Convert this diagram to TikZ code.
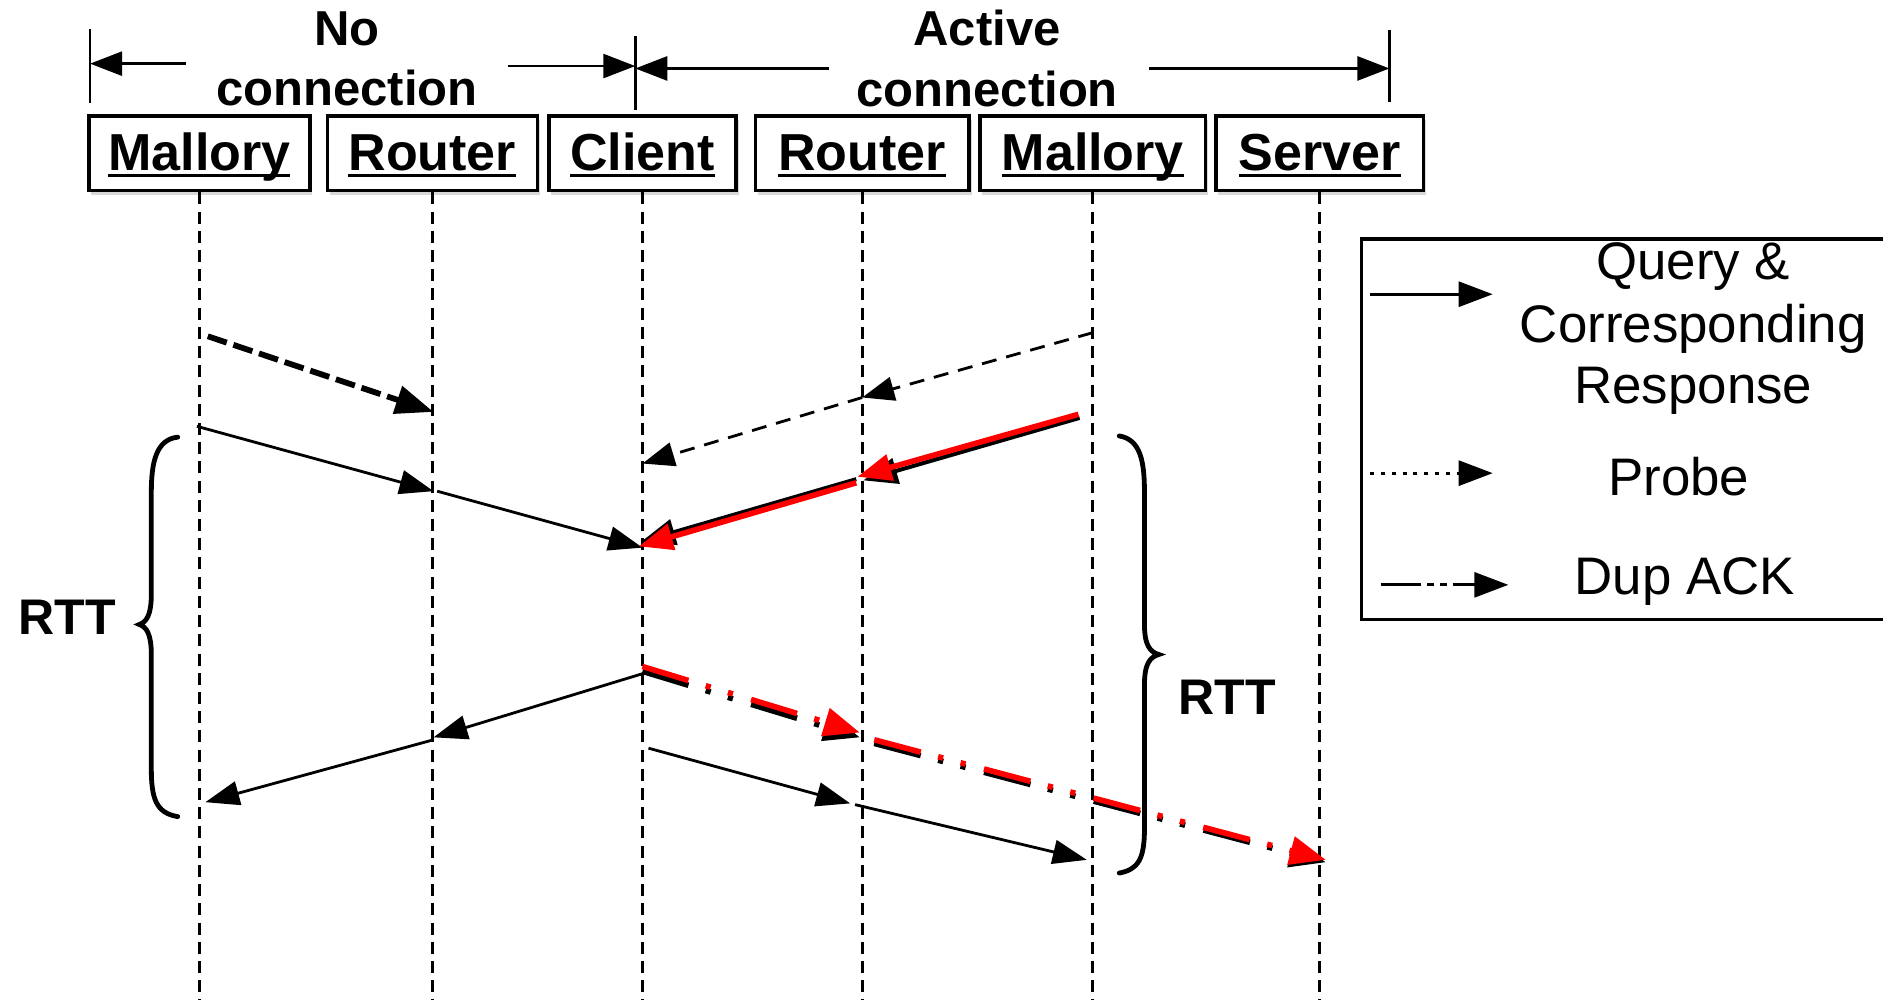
\documentclass[tikz,border=0pt]{standalone}
\usepackage{fontspec}
\setmainfont{Liberation Sans}
\usetikzlibrary{arrows.meta,shadows}
\newcommand\hul[1]{\setbox0\hbox{#1}\rlap{\rule[-3.6pt]{\wd0}{1.6pt}}\box0}
\begin{document}
\begin{tikzpicture}[x=0.6pt,y=-0.6pt,
  hdr/.style={draw,line width=1.7pt,fill=white,inner sep=0pt,text height=27pt,text depth=10.3pt,
    font=\fontsize{26}{30}\selectfont\bfseries,
    drop shadow={shadow xshift=1.2pt,shadow yshift=-2pt,opacity=0.3}},
  life/.style={line width=1.4pt,dash pattern=on 6pt off 3.6pt},
  msg/.style={line width=1.4pt,-{Triangle[length=17pt,width=12pt]}},
  thickdash/.style={line width=2.9pt,dash pattern=on 10pt off 3.5pt,-{Triangle[length=19pt,width=14pt]}},
  probe/.style={line width=1.4pt,dash pattern=on 7.5pt off 5pt,-{Triangle[length=16pt,width=12pt]}},
  redmsg/.style={draw=red,line width=2.8pt,-{Triangle[length=17pt,width=13pt,fill=red]}},
  blkmsg/.style={line width=2pt,-{Triangle[length=17pt,width=13pt]}},
  dupack/.style={line width=2.8pt,dash pattern=on 24pt off 9pt on 2.6pt off 9pt on 2.6pt off 9.5pt,-{Triangle[length=18pt,width=14pt]}},
  spanarr/.style={line width=1.3pt,-{Triangle[length=16pt,width=12pt]}},
  legarr/.style={line width=1.4pt,-{Triangle[length=17pt,width=12.5pt]}},
  bracestyle/.style={line width=2.4pt,line cap=round},
  lbl/.style={font=\fontsize{24.5}{28}\selectfont\bfseries,anchor=base,inner sep=0pt},
  rtt/.style={font=\fontsize{25}{28}\selectfont\bfseries,anchor=base,inner sep=0pt},
  leg/.style={font=\fontsize{26.4}{30}\selectfont,anchor=base,inner sep=0pt}
]
\fill[white] (0,0) rectangle (1568,832.7);
\useasboundingbox (0,0) rectangle (1568,832.7);

% headers
\node[hdr,minimum width=110.4pt] (m1) at (166,127.7) {\hul{Mallory}};
\node[hdr,minimum width=105pt]   (r1) at (360,127.7) {\hul{Router}};
\node[hdr,minimum width=93.6pt]  (cl) at (535,127.7) {\hul{Client}};
\node[hdr,minimum width=106.8pt] (r2) at (718,127.7) {\hul{Router}};
\node[hdr,minimum width=112.8pt] (m2) at (910,127.7) {\hul{Mallory}};
\node[hdr,minimum width=103.8pt] (sv) at (1099,127.7) {\hul{Server}};

% lifelines
\coordinate (bot) at (0,834);
\foreach \n in {m1,r1,cl,r2,m2,sv}{
  \draw[life] (\n.south) -- (\n.south |- bot);
}

% span markers
\coordinate (b1t) at (75,24);  \coordinate (b1b) at (75,86);
\coordinate (b2t) at (529,30); \coordinate (b2b) at (529,92);
\coordinate (b3t) at (1157,25);\coordinate (b3b) at (1157,85);
\draw[line width=1.3pt] (b1t) -- (b1b);
\draw[line width=1.3pt] (b2t) -- (b2b);
\draw[line width=1.3pt] (b3t) -- (b3b);
\coordinate (s1a) at (155,53);  \coordinate (s1b) at (75,53);
\coordinate (s2a) at (423,55);  \coordinate (s2b) at (529,55);
\coordinate (s3a) at (690,57);  \coordinate (s3b) at (529,57);
\coordinate (s4a) at (957,57);  \coordinate (s4b) at (1157,57);
\draw[spanarr] (s1a) -- (s1b);
\draw[spanarr] (s2a) -- (s2b);
\draw[spanarr] (s3a) -- (s3b);
\draw[spanarr] (s4a) -- (s4b);
\node[lbl] (no1) at (289,37.5) {No};
\node[lbl] (no2) at (289,88) {connection};
\node[lbl] (ac1) at (822,37.5) {Active};
\node[lbl] (ac2) at (822,89) {connection};

% arrow 1: thick dashed Mallory -> Router
\coordinate (p1a) at (173,280); \coordinate (p1b) at (361,343);
\draw[thickdash] (p1a) -- (p1b);

% arrow 2: Mallory -> Router -> Client
\coordinate (q2a) at (164,355); \coordinate (q2b) at (361,409);
\coordinate (q2c) at (364,409); \coordinate (q2d) at (535,456);
\draw[msg] (q2a) -- (q2b);
\draw[msg] (q2c) -- (q2d);

% arrow 3: probe Mallory2 -> Router2 -> Client
\coordinate (q3a) at (910,277); \coordinate (q3b) at (718,331);
\coordinate (q3c) at (718,331); \coordinate (q3d) at (535,386);
\draw[probe] (q3a) -- (q3b);
\draw[probe] (q3c) -- (q3d);

% arrow 4: red Mallory2 -> Router2 -> Client (black underneath)
\coordinate (k4a) at (899,348); \coordinate (k4b) at (719,400);
\coordinate (k4c) at (713,399); \coordinate (k4d) at (534,451);
\draw[blkmsg] (k4a) -- (k4b);
\draw[blkmsg] (k4c) -- (k4d);
\coordinate (q4a) at (898,345); \coordinate (q4b) at (714,397);
\coordinate (q4c) at (713,402); \coordinate (q4d) at (532,455);
\draw[redmsg] (q4a) -- (q4b);
\draw[redmsg] (q4c) -- (q4d);

% arrow 5: Client -> Router -> Mallory
\coordinate (q5a) at (535,561); \coordinate (q5b) at (361,614);
\coordinate (q5c) at (361,616); \coordinate (q5d) at (171,668);
\draw[msg] (q5a) -- (q5b);
\draw[msg] (q5c) -- (q5d);

% arrow 6: Dup ACK red (black underneath)
\coordinate (k6a) at (535,559); \coordinate (k6b) at (716,614);
\coordinate (k6c) at (728,619); \coordinate (k6d) at (1104,718);
\draw[dupack] (k6a) -- (k6b);
\draw[dupack] (k6c) -- (k6d);
\coordinate (q6a) at (535,555); \coordinate (q6b) at (716,610);
\coordinate (q6c) at (728,616); \coordinate (q6d) at (1104,716);
\draw[dupack,red,-{Triangle[length=18pt,width=14pt,fill=red]}] (q6a) -- (q6b);
\draw[dupack,red,-{Triangle[length=18pt,width=14pt,fill=red]}] (q6c) -- (q6d);

% arrow 7: Client -> Router2 -> Mallory2
\coordinate (q7a) at (540,623); \coordinate (q7b) at (708,669);
\coordinate (q7c) at (712,670); \coordinate (q7d) at (905,716);
\draw[msg] (q7a) -- (q7b);
\draw[msg] (q7c) -- (q7d);

% braces
\draw[bracestyle] (148,364) .. controls (130,366) and (126,385) .. (126,410) -- (126,495)
  .. controls (126,512) and (122,518) .. (116,520)
  .. controls (122,522) and (126,528) .. (126,545) -- (126,640)
  .. controls (126,665) and (130,677) .. (148,680);
\node[rtt] (rttl) at (56,528) {RTT};
\draw[bracestyle] (932,363) .. controls (950,366) and (953,385) .. (953,410) -- (953,520)
  .. controls (953,538) and (958,543) .. (965,545)
  .. controls (958,547) and (953,552) .. (953,570) -- (953,690)
  .. controls (953,715) and (948,724) .. (932,727);
\node[rtt] (rttr) at (1022,595) {RTT};

% legend
\draw[line width=1.6pt] (1568,199) -- (1134,199) -- (1134,516) -- (1568,516);
\coordinate (l1a) at (1141,245); \coordinate (l1b) at (1243,245);
\coordinate (l2a) at (1141,394); \coordinate (l2b) at (1243,394);
\coordinate (l3a) at (1150,487); \coordinate (l3b) at (1256,487);
\draw[legarr] (l1a) -- (l1b);
\draw[legarr,dash pattern=on 2pt off 3.4pt] (l2a) -- (l2b);
\draw[legarr,dash pattern=on 20pt off 3pt on 3.5pt off 3pt on 3.5pt off 3pt] (l3a) -- (l3b);
\node[leg] (t1) at (1410,233) {Query \&};
\node[leg] (t2) at (1410,285) {Corresponding};
\node[leg] (t3) at (1410,336) {Response};
\node[leg] (t4) at (1398,413) {Probe};
\node[leg] (t5) at (1403,495) {Dup ACK};
\end{tikzpicture}
\end{document}
